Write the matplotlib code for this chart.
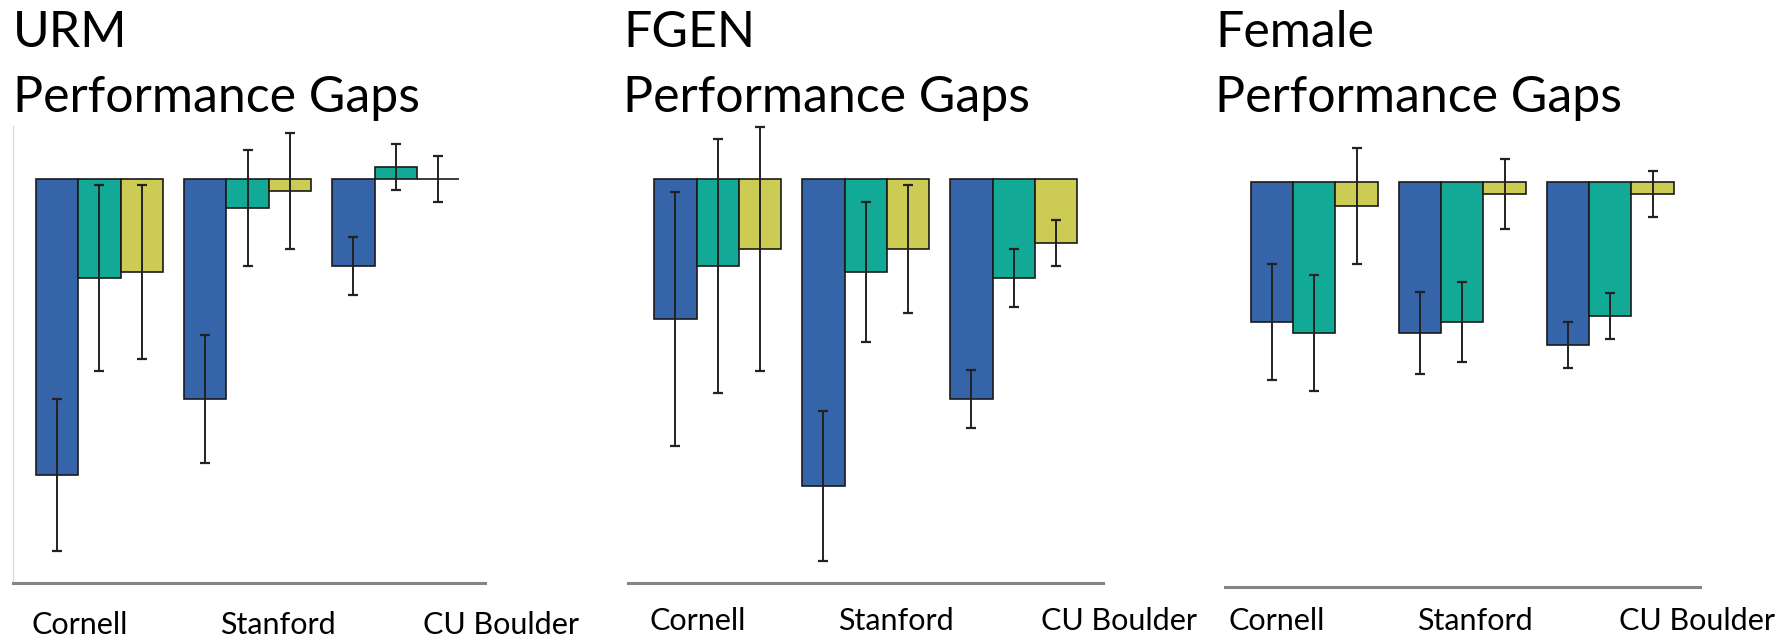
import numpy as np
import matplotlib
matplotlib.use("Agg")
import matplotlib.pyplot as plt
from matplotlib.transforms import blended_transform_factory

plt.rcParams['font.family'] = ['Lato', 'DejaVu Sans']

# ------------------------------
# Data (gap size)
# ------------------------------
schools = ['Cornell', 'Stanford', 'CU Boulder']
panel_titles = [('URM', 'Performance Gaps'), ('FGEN', 'Performance Gaps'),
                ('Female', 'Performance Gaps')]

# three bars per school: blue, teal, yellow
urm_blue = [-0.296, -0.220, -0.087]
urm_teal = [-0.099, -0.029, 0.012]
urm_yellow = [-0.093, -0.012, 0.0]
urm_blue_err = [0.076, 0.064, 0.029]
urm_teal_err = [0.093, 0.058, 0.023]
urm_yellow_err = [0.087, 0.058, 0.023]

fgen_blue = [-0.140, -0.307, -0.220]
fgen_teal = [-0.087, -0.093, -0.099]
fgen_yellow = [-0.070, -0.070, -0.064]
fgen_blue_err = [0.127, 0.075, 0.029]
fgen_teal_err = [0.127, 0.070, 0.029]
fgen_yellow_err = [0.122, 0.064, 0.023]

female_blue = [-0.140, -0.151, -0.163]
female_teal = [-0.151, -0.140, -0.134]
female_yellow = [-0.024, -0.012, -0.012]
female_blue_err = [0.058, 0.041, 0.023]
female_teal_err = [0.058, 0.040, 0.023]
female_yellow_err = [0.058, 0.035, 0.023]

colors = ['#3565A8', '#12AA96', '#CCCC55']

panels = [
    ([urm_blue, urm_teal, urm_yellow], [urm_blue_err, urm_teal_err, urm_yellow_err]),
    ([fgen_blue, fgen_teal, fgen_yellow], [fgen_blue_err, fgen_teal_err, fgen_yellow_err]),
    ([female_blue, female_teal, female_yellow], [female_blue_err, female_teal_err, female_yellow_err]),
]

# ------------------------------
# Layout (pixels, top-left origin)
# ------------------------------
W, H = 1786, 639
# left, right, top, bottom of each axes
boxes = [(12.7, 485, 126, 583), (628, 1103, 126, 583), (1225, 1700, 129, 586.7)]
xlims = [(-2.05, 9.11), (-2.12, 9.11), (-2.11, 9.12)]
ylim = (-0.404, 0.053)
label_x = [[-0.47, 4.21, 9.48], [-0.47, 4.21, 9.48], [-0.89, 3.80, 9.04]]
label_base = [634, 630, 630]
title_x = [13, 623, 1215]

fig = plt.figure(figsize=(W / 100, H / 100), dpi=100)

group_pos = np.arange(len(schools)) * 3.5

for i, (vals, errs) in enumerate(panels):
    l, r, t, b = boxes[i]
    ax = fig.add_axes([l / W, 1 - b / H, (r - l) / W, (b - t) / H])
    for k in range(3):
        ax.bar(group_pos + (k - 1), vals[k], width=1.0, color=colors[k],
               edgecolor='#1a1a1a', linewidth=1.2, zorder=2)
        ax.errorbar(group_pos + (k - 1), vals[k], yerr=errs[k], fmt='none',
                    ecolor='#222222', elinewidth=1.4, capsize=3.8, capthick=1.6,
                    zorder=3, clip_on=False)
    ax.set_xlim(*xlims[i])
    ax.set_ylim(*ylim)
    ax.set_xticks([])
    ax.set_yticks([])
    for s in ['top', 'right']:
        ax.spines[s].set_visible(False)
    ax.spines['bottom'].set_color('#858585')
    ax.spines['bottom'].set_linewidth(2.2)
    if i == 0:
        ax.spines['left'].set_color('#d9d9d9')
        ax.spines['left'].set_linewidth(0.9)
    else:
        ax.spines['left'].set_visible(False)
    ax.patch.set_alpha(0)

    trans = blended_transform_factory(ax.transData, fig.transFigure)
    for j, name in enumerate(schools):
        ax.text(label_x[i][j], 1 - label_base[i] / H, name, transform=trans,
                ha='center', va='baseline', fontsize=22, clip_on=False)

    fig.text(title_x[i] / W, 1 - 47 / H, panel_titles[i][0], ha='left',
             va='baseline', fontsize=36)
    fig.text(title_x[i] / W, 1 - 112 / H, panel_titles[i][1], ha='left',
             va='baseline', fontsize=36)

fig.savefig('out.png', dpi=100)
